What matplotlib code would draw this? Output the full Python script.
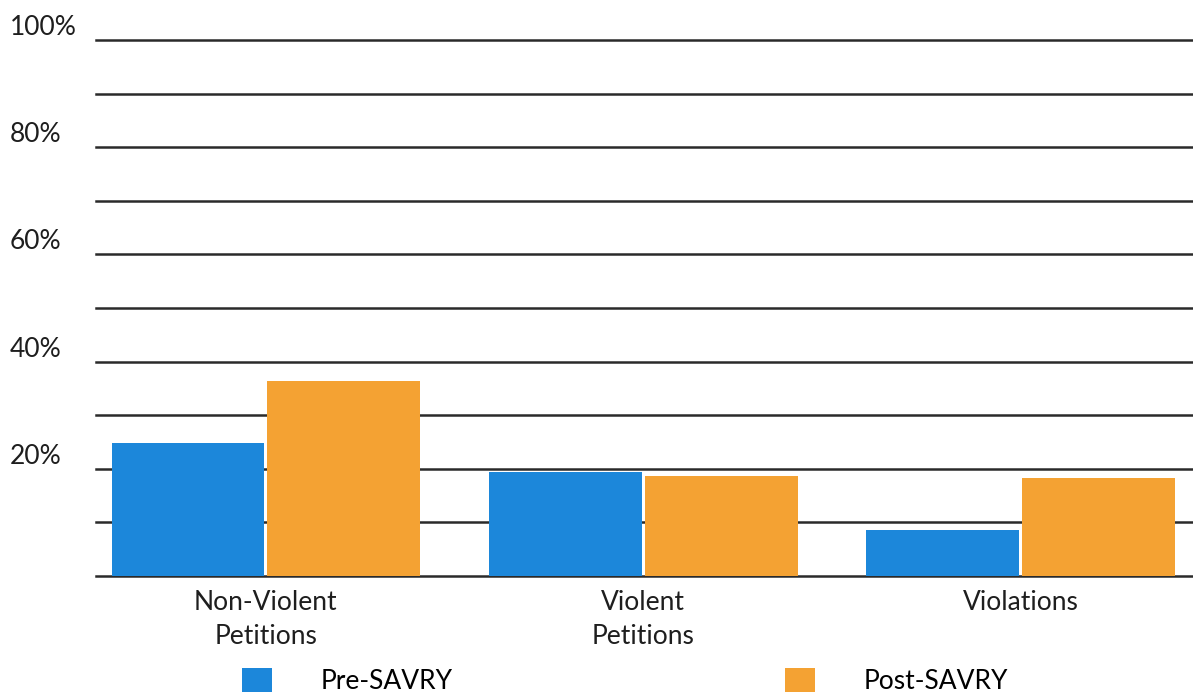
import matplotlib
matplotlib.use("Agg")
import matplotlib.pyplot as plt
import numpy as np
from matplotlib.patches import Patch

categories = ["Non-Violent\nPetitions", "Violent\nPetitions", "Violations"]
series_names = ["Pre-SAVRY", "Post-SAVRY"]
pre_savry = [24.8, 19.4, 8.6]
post_savry = [36.3, 18.7, 18.2]
ytick_values = [0, 20, 40, 60, 80, 100]
ytick_labels = ["", "20%", "40%", "60%", "80%", "100%"]

blue = "#1C87DA"
orange = "#F4A233"
grid_color = "#2a2a2a"
text_color = "#1e1e1e"
fs = 19

plt.rcParams["font.family"] = ["Lato", "DejaVu Sans"]

fig = plt.figure(figsize=(11.93, 6.92), dpi=100)
ax = fig.add_axes([0.0805, 0.1676, 0.9195, 0.7746])

x = np.arange(len(categories))
width = 0.405
gap = 0.004
ax.bar(x - width / 2 - gap, pre_savry, width, color=blue, zorder=3)
ax.bar(x + width / 2 + gap, post_savry, width, color=orange, zorder=3)

ax.set_xlim(-0.45, 2.456)
ax.set_ylim(0, 100)

# horizontal rules every 10%
for v in range(0, 101, 10):
    ax.axhline(v, color=grid_color, lw=1.8, zorder=1, clip_on=False)

for s in ax.spines.values():
    s.set_visible(False)

ax.set_yticks(ytick_values)
ax.set_yticklabels(ytick_labels, fontsize=fs, color=text_color, ha="left",
                   va="bottom")
ax.tick_params(axis="y", length=0, pad=62)

ax.set_xticks(x)
ax.set_xticklabels(categories, fontsize=fs, color=text_color, linespacing=1.45)
ax.tick_params(axis="x", length=0, pad=10)

handles = [Patch(facecolor=blue), Patch(facecolor=orange)]
fig.legend(handles, series_names, loc="lower left", bbox_to_anchor=(0.183, -0.037),
           ncol=2, frameon=False, fontsize=fs, handlelength=1.12, handleheight=1.05,
           handletextpad=1.85, columnspacing=12.6)

fig.savefig("out.png", dpi=100, facecolor="white")
